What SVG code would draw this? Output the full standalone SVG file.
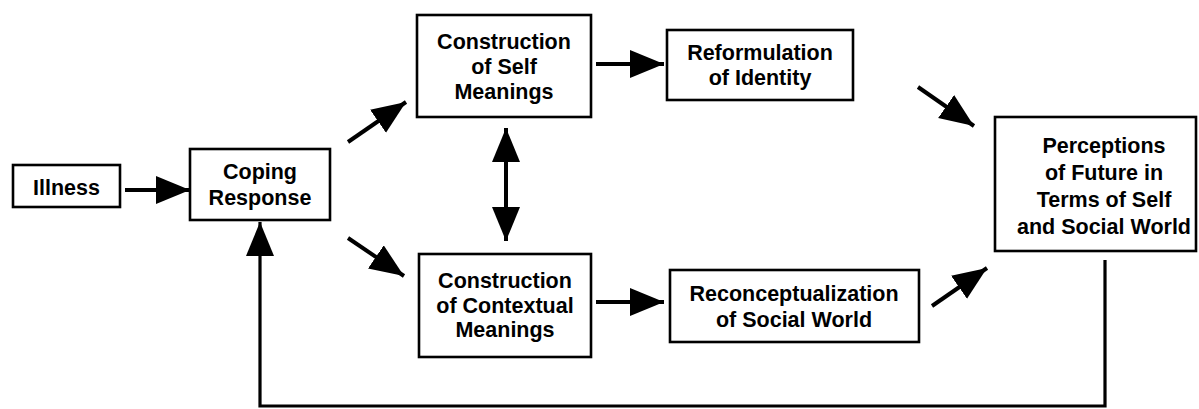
<svg xmlns="http://www.w3.org/2000/svg" width="1199" height="409" viewBox="0 0 1199 409">
<defs>
<marker id="ah" markerUnits="userSpaceOnUse" markerWidth="36" markerHeight="30" refX="34" refY="14" orient="auto-start-reverse" viewBox="0 0 36 30">
<path d="M0,0 L34,14 L0,28 Z" fill="#000"/>
</marker>
<style>
.box{fill:#fff;stroke:#000;stroke-width:2.6}
.t{font-family:"Liberation Sans",Arial,sans-serif;font-weight:bold;font-size:21.5px;fill:#000;text-anchor:middle}
.c{stroke:#000;stroke-width:4;fill:none}
.f{stroke:#000;stroke-width:3.2;fill:none}
</style>
</defs>
<rect width="1199" height="409" fill="#fff"/>
<g id="connectors">
<line class="c" x1="125" y1="190" x2="190" y2="190" marker-end="url(#ah)"/>
<line class="c" x1="348" y1="142" x2="406" y2="102" marker-end="url(#ah)"/>
<line class="c" x1="348" y1="238" x2="404" y2="276" marker-end="url(#ah)"/>
<line class="c" x1="506" y1="128" x2="506" y2="241" marker-start="url(#ah)" marker-end="url(#ah)"/>
<line class="c" x1="596" y1="64" x2="664" y2="64" marker-end="url(#ah)"/>
<line class="c" x1="596" y1="302" x2="664" y2="302" marker-end="url(#ah)"/>
<line class="c" x1="918" y1="87" x2="974" y2="126" marker-end="url(#ah)"/>
<line class="c" x1="932" y1="306" x2="987" y2="268" marker-end="url(#ah)"/>
<polyline class="f" points="1105,260 1105,406 260,406 260,222" marker-end="url(#ah)"/>
</g>
<g id="illness">
<rect class="box" x="13" y="165" width="107" height="42"/>
<text class="t" x="66.5" y="195">Illness</text>
</g>
<g id="coping">
<rect class="box" x="190" y="149" width="140" height="71"/>
<text class="t" x="260" y="179">Coping</text>
<text class="t" x="260" y="205">Response</text>
</g>
<g id="self">
<rect class="box" x="417" y="15" width="174" height="102"/>
<text class="t" x="504" y="49">Construction</text>
<text class="t" x="504" y="74">of Self</text>
<text class="t" x="504" y="99">Meanings</text>
</g>
<g id="contextual">
<rect class="box" x="419" y="254" width="172" height="103"/>
<text class="t" x="505" y="288">Construction</text>
<text class="t" x="505" y="313">of Contextual</text>
<text class="t" x="505" y="337">Meanings</text>
</g>
<g id="reformulation">
<rect class="box" x="667" y="30" width="186" height="70"/>
<text class="t" x="760" y="60">Reformulation</text>
<text class="t" x="760" y="85">of Identity</text>
</g>
<g id="reconceptualization">
<rect class="box" x="670" y="270" width="249" height="72"/>
<text class="t" x="794" y="301">Reconceptualization</text>
<text class="t" x="794" y="327">of Social World</text>
</g>
<g id="perceptions">
<rect class="box" x="995" y="117" width="201" height="134"/>
<text class="t" x="1104" y="153">Perceptions</text>
<text class="t" x="1104" y="180">of Future in</text>
<text class="t" x="1104" y="207">Terms of Self</text>
<text class="t" x="1104" y="234">and Social World</text>
</g>
</svg>
